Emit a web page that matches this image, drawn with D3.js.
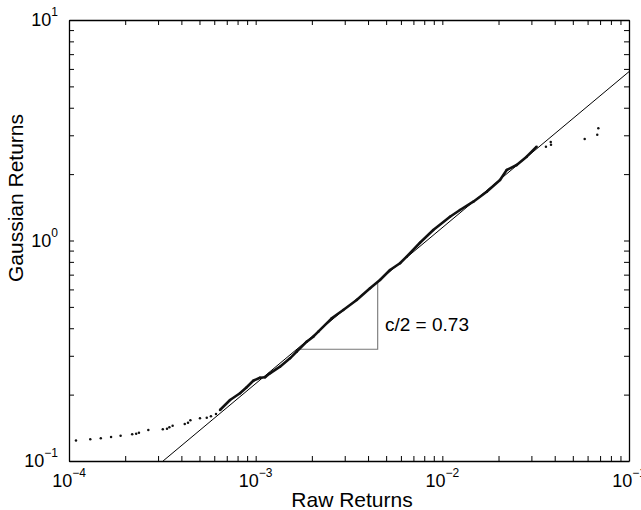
<!DOCTYPE html>
<html>
<head>
<meta charset="utf-8">
<script src="https://cdn.jsdelivr.net/npm/d3@7"></script>
<style>
  body { margin: 0; background: #fff; }
  svg { font-family: "Liberation Sans", Arial, Helvetica, sans-serif; }
</style>
</head>
<body>
<div id="chart"></div>
<script>
// tail points (sparse, drawn as dots)
const tailX = [1.09e-4, 1.30e-4, 1.48e-4, 1.68e-4, 1.89e-4, 2.18e-4, 2.29e-4, 2.37e-4, 2.66e-4, 3.18e-4,
               3.35e-4, 3.45e-4, 3.59e-4, 4.17e-4, 4.34e-4, 4.47e-4, 5.03e-4, 5.47e-4, 5.76e-4, 6.13e-4];
const tailY = [0.124, 0.1254, 0.1268, 0.1285, 0.1302, 0.1322, 0.1330, 0.1344, 0.1382, 0.1393,
               0.1401, 0.1422, 0.1446, 0.1472, 0.1492, 0.1530, 0.1562, 0.1572, 0.1595, 0.1634];

// dense part of the quantile curve
const denseX = [6.44e-4, 7.29e-4, 8.24e-4, 8.95e-4, 9.71e-4, 1.055e-3, 1.122e-3, 1.193e-3, 1.350e-3, 1.527e-3,
                1.659e-3, 1.877e-3, 2.036e-3, 2.165e-3, 2.554e-3, 2.946e-3, 3.477e-3, 4.098e-3, 4.634e-3, 5.243e-3,
                5.93e-3, 6.44e-3, 7.59e-3, 8.94e-3, 1.099e-2, 1.243e-2, 1.465e-2, 1.729e-2, 2.037e-2, 2.212e-2,
                2.502e-2, 2.83e-2, 3.20e-2];
const denseY = [0.1703, 0.1891, 0.2028, 0.2159, 0.2312, 0.2386, 0.2396, 0.2498, 0.2677, 0.2922,
                0.3132, 0.3476, 0.3662, 0.3859, 0.4437, 0.4840, 0.5373, 0.6070, 0.6622, 0.7348,
                0.7882, 0.8445, 0.977, 1.116, 1.282, 1.375, 1.500, 1.665, 1.882, 2.088,
                2.199, 2.399, 2.664];

// extreme points at the top right
const outX = [3.59e-2, 3.81e-2, 3.82e-2, 5.79e-2, 6.76e-2, 6.85e-2];
const outY = [2.664, 2.797, 2.720, 2.886, 3.019, 3.228];

// fitted power law line and slope triangle
const fitX = [3.19e-4, 0.1];
const fitY = [0.1, 5.83];
const triX = [1.685e-3, 4.505e-3, 4.505e-3];
const triY = [0.321, 0.321, 0.650];
const slopeLabel = "c/2 = 0.73";

const xTickExps = [-4, -3, -2, -1];
const yTickExps = [-1, 0, 1];
const xTitle = "Raw Returns";
const yTitle = "Gaussian Returns";

const W = 641, H = 510;
const pLeft = 69, pRight = 629, pTop = 20, pBottom = 461;

const x = d3.scaleLog().domain([1e-4, 1e-1]).range([pLeft, pRight]);
const y = d3.scaleLog().domain([0.1, 10]).range([pBottom, pTop]);

const svg = d3.select("#chart").append("svg")
  .attr("width", W).attr("height", H);

svg.append("clipPath").attr("id", "clip")
  .append("rect").attr("x", pLeft).attr("y", pTop)
  .attr("width", pRight - pLeft).attr("height", pBottom - pTop);

const plot = svg.append("g").attr("clip-path", "url(#clip)");
const line = d3.line().x(d => x(d[0])).y(d => y(d[1]));

// fit line
plot.append("path")
  .datum(fitX.map((d, i) => [d, fitY[i]]))
  .attr("d", line)
  .attr("fill", "none").attr("stroke", "#000").attr("stroke-width", 1);

// triangle
plot.append("path")
  .datum(triX.map((d, i) => [d, triY[i]]))
  .attr("d", line)
  .attr("fill", "none").attr("stroke", "#777").attr("stroke-width", 1.1);

// dense curve
plot.append("path")
  .datum(denseX.map((d, i) => [d, denseY[i]]))
  .attr("d", line)
  .attr("fill", "none").attr("stroke", "#111").attr("stroke-width", 2.6)
  .attr("stroke-linejoin", "round");

const pts = tailX.map((d, i) => [d, tailY[i]])
  .concat(denseX.map((d, i) => [d, denseY[i]]))
  .concat(outX.map((d, i) => [d, outY[i]]));
plot.selectAll("circle.pt").data(pts).enter().append("circle")
  .attr("class", "pt")
  .attr("cx", d => x(d[0])).attr("cy", d => y(d[1]))
  .attr("r", 1.25).attr("fill", "#111");

// slope label
svg.append("text").attr("x", 385).attr("y", 331)
  .attr("font-size", 19).attr("fill", "#000").text(slopeLabel);

// axes box with inward ticks on all sides
const tickLen = 5;
const xt = x.ticks(), yt = y.ticks();
function styleAxis(g) {
  g.selectAll("path.domain").attr("stroke", "#000").attr("stroke-width", 1.3);
  g.selectAll(".tick line").attr("stroke", "#000").attr("stroke-width", 1);
  g.selectAll(".tick text").remove();
}
svg.append("g").attr("transform", `translate(0,${pBottom})`)
  .call(d3.axisBottom(x).tickValues(xt).tickSize(-tickLen).tickSizeOuter(0).tickFormat("")).call(styleAxis);
svg.append("g").attr("transform", `translate(0,${pTop})`)
  .call(d3.axisTop(x).tickValues(xt).tickSize(-tickLen).tickSizeOuter(0).tickFormat("")).call(styleAxis);
svg.append("g").attr("transform", `translate(${pLeft},0)`)
  .call(d3.axisLeft(y).tickValues(yt).tickSize(-tickLen).tickSizeOuter(0).tickFormat("")).call(styleAxis);
svg.append("g").attr("transform", `translate(${pRight},0)`)
  .call(d3.axisRight(y).tickValues(yt).tickSize(-tickLen).tickSizeOuter(0).tickFormat("")).call(styleAxis);

function expLabel(sel, e) {
  sel.append("tspan").text("10");
  sel.append("tspan").attr("font-size", 12).attr("dy", -10)
    .text(e < 0 ? "\u2212" + Math.abs(e) : String(e));
}

// x tick labels
xTickExps.forEach(e => {
  const t = svg.append("text")
    .attr("x", x(Math.pow(10, e))).attr("y", 487)
    .attr("text-anchor", "middle").attr("font-size", 18).attr("fill", "#000");
  expLabel(t, e);
});
// y tick labels
yTickExps.forEach(e => {
  const t = svg.append("text")
    .attr("x", 58).attr("y", y(Math.pow(10, e)) + 6)
    .attr("text-anchor", "end").attr("font-size", 18).attr("fill", "#000");
  expLabel(t, e);
});

svg.append("text").attr("x", (pLeft + pRight) / 2 + 3).attr("y", 507)
  .attr("text-anchor", "middle").attr("font-size", 21).attr("fill", "#000").text(xTitle);
svg.append("text")
  .attr("transform", `translate(23,198) rotate(-90)`)
  .attr("text-anchor", "middle").attr("font-size", 21).attr("fill", "#000").text(yTitle);
</script>
</body>
</html>
